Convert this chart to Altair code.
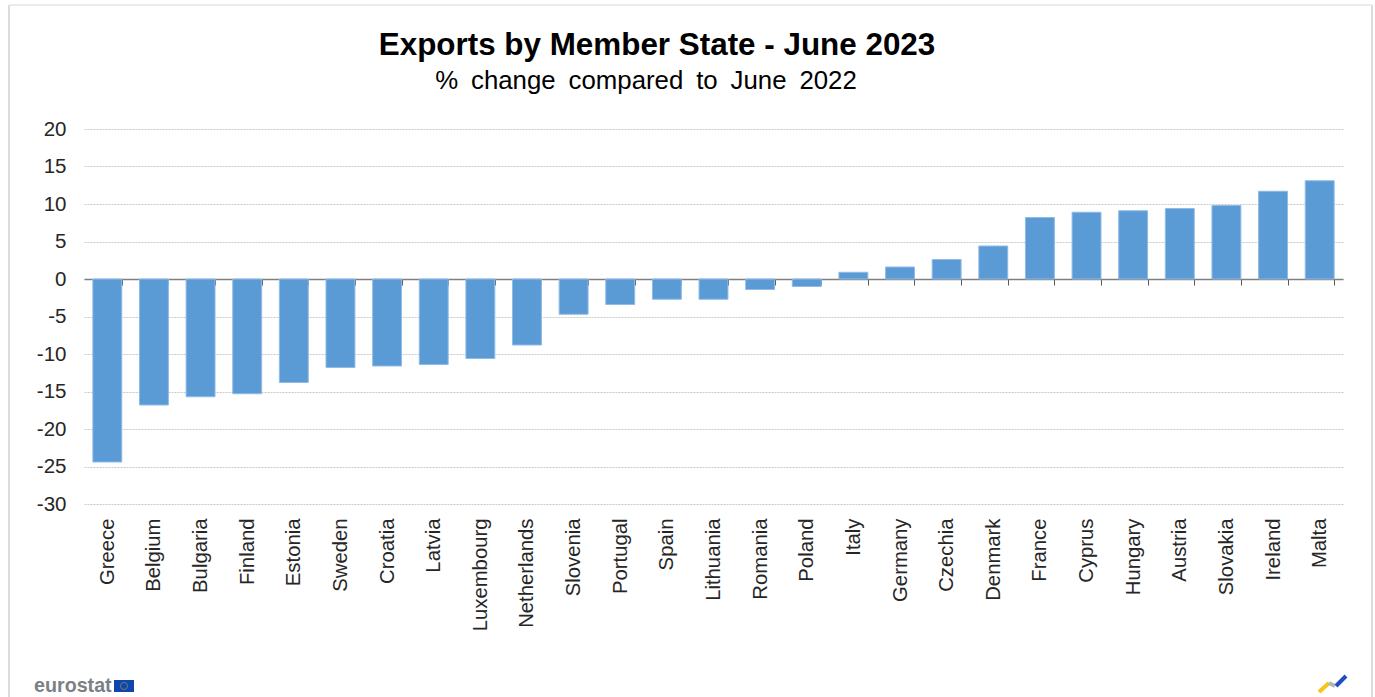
import altair as alt
import pandas as pd

countries = ["Greece", "Belgium", "Bulgaria", "Finland", "Estonia", "Sweden", "Croatia", "Latvia",
             "Luxembourg", "Netherlands", "Slovenia", "Portugal", "Spain", "Lithuania", "Romania",
             "Poland", "Italy", "Germany", "Czechia", "Denmark", "France", "Cyprus", "Hungary",
             "Austria", "Slovakia", "Ireland", "Malta"]
changes = [-24.4, -16.8, -15.7, -15.3, -13.8, -11.8, -11.6, -11.4, -10.6, -8.8, -4.7, -3.4, -2.7,
           -2.7, -1.4, -1.0, 0.9, 1.6, 2.6, 4.4, 8.2, 8.9, 9.1, 9.4, 9.8, 11.7, 13.1]
y_ticks = [20, 15, 10, 5, 0, -5, -10, -15, -20, -25, -30]

FONT = "Liberation Sans"
PLOT_W, PLOT_H = 1259, 375
LEFT, TOP = 84, 129

df = pd.DataFrame({"country": countries, "change": changes})

x_axis = alt.Axis(
    title=None, orient="bottom", offset=-225, labelAngle=-90, labelPadding=233,
    labelFont=FONT, labelFontSize=20.3, labelColor="#262626", labelAlign="right", labelBaseline="middle",
    tickBand="extent", tickSize=6, tickColor="#595959", tickWidth=1,
    domainColor="#7f7f7f", domainWidth=1.5, grid=False, labelOverlap=False,
)
y_axis = alt.Axis(
    title=None, values=y_ticks, domain=False, ticks=False, labelPadding=18,
    labelExpr="'' + datum.value",
    labelFont=FONT, labelFontSize=20.5, labelColor="#262626",
    grid=True, gridColor="#c9c9c9", gridDash=[2, 1], gridWidth=1,
)

bars = alt.Chart(df).mark_bar(color="#5b9bd5", stroke="#8fbbe6", strokeWidth=1).encode(
    x=alt.X("country:N", sort=countries, axis=x_axis,
            scale=alt.Scale(paddingInner=0.38, paddingOuter=0.19)),
    y=alt.Y("change:Q", axis=y_axis, scale=alt.Scale(domain=[-30, 20], nice=False)),
)

# Page furniture drawn in pixel space: titles, frame, footer wordmark, flag and logo strokes
def seg(x1, y1, x2, y2, color, width):
    return alt.Chart(pd.DataFrame({"a": [0]})).mark_rule(color=color, strokeWidth=width, clip=False).encode(
        x=alt.value(x1 - LEFT), x2=alt.value(x2 - LEFT), y=alt.value(y1 - TOP), y2=alt.value(y2 - TOP))

def label(text, x, y, size, color, weight="normal", align="left"):
    return alt.Chart(pd.DataFrame({"t": [text]})).mark_text(
        font=FONT, fontSize=size, fontWeight=weight, color=color, align=align, baseline="alphabetic", clip=False
    ).encode(x=alt.value(x - LEFT), y=alt.value(y - TOP), text="t:N")

frame = (seg(9, 5, 9, 697, "#dcdcdc", 2)
         + seg(1372, 5, 1372, 697, "#dcdcdc", 2)
         + seg(9, 5, 1372, 5, "#e4e4e4", 1.5))

heading = label("Exports by Member State - June 2023", 657, 55, 31.4, "#000000", "bold", "center")
# En spaces give the subtitle its open word spacing
subheading = label("%\u2002change\u2002compared\u2002to\u2002June\u20022022", 646, 89, 25.8,
                   "#000000", "normal", "center")

wordmark = label("eurostat", 34, 692, 19.7, "#7d7f86", "bold")
flag = seg(114, 686, 134, 686, "#0f47af", 12)
stars = alt.Chart(pd.DataFrame({"a": [0]})).mark_point(
    shape="circle", size=50, color="#b9a53c", strokeWidth=0.8, filled=False, clip=False
).encode(x=alt.value(124 - LEFT), y=alt.value(686 - TOP))
logo = (seg(1319, 692, 1329, 683, "#f5c518", 4)
        + seg(1329, 683, 1335, 686, "#b5b5b5", 4)
        + seg(1336, 686, 1346, 676, "#1f4fbf", 4))

chart = (frame + bars + heading + subheading + wordmark + flag + stars + logo).properties(
    width=PLOT_W, height=PLOT_H,
    autosize=alt.AutoSizeParams(type="none"),
    padding={"left": LEFT, "top": TOP, "right": 32, "bottom": 193},
    background="#ffffff",
).configure_view(stroke=None)

chart.save("out.html", embed_options={"renderer": "svg", "actions": False})
